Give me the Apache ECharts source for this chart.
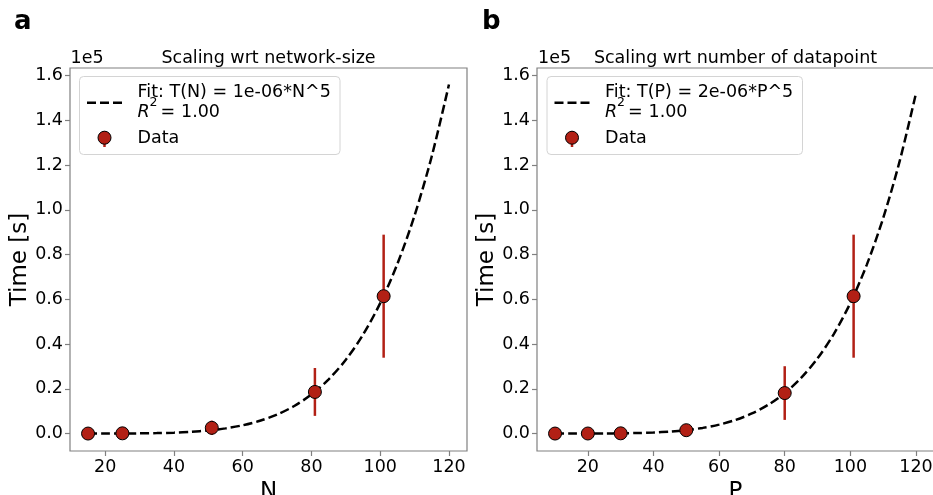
<!DOCTYPE html>
<html>
<head>
<meta charset="utf-8">
<script src="https://cdn.jsdelivr.net/npm/echarts@6/dist/echarts.min.js"></script>
<style>
html, body { margin: 0; padding: 0; background: #fff; }
#chart { width: 933px; height: 495px; }
</style>
</head>
<body>
<div id="chart"></div>
<script>
// panel a: run time vs network size N
var netN = [15, 25, 51, 81, 101];
var netTime = [0, 100, 2560, 18600, 61400];
var netErr = [100, 300, 3200, 10700, 27500];
var netFitN = [15, 20, 25, 30, 35, 40, 45, 50, 55, 60, 65, 70, 75, 80, 85, 90, 95, 100, 105, 110, 115, 120];
var netFitTime = [2, 10, 33, 88, 201, 413, 781, 1380, 2309, 3696, 5692, 8493, 12329, 17472, 24245, 32996, 44186, 58290, 75850, 97520, 123970, 156000];

// panel b: run time vs number of datapoints P
var dpP = [10, 20, 30, 50, 80, 101];
var dpTime = [0, 20, 100, 1500, 18100, 61400];
var dpErr = [50, 100, 300, 1000, 12000, 27500];
var dpFitP = [10, 15, 20, 25, 30, 35, 40, 45, 50, 55, 60, 65, 70, 75, 80, 85, 90, 95, 100, 105, 110, 115, 120];
var dpFitTime = [0, 3, 13, 40, 105, 236, 475, 882, 1534, 2529, 3993, 6080, 8967, 12886, 18088, 24867, 33562, 44597, 58368, 75407, 96262, 121570, 152000];

var xTicks = [20, 40, 60, 80, 100, 120];
var yTicks = [0, 20000, 40000, 60000, 80000, 100000, 120000, 140000, 160000];

var FONT = 'DejaVu Sans';
var RED = '#b22015';
var SPINE = '#808080';

function zip(a, b) {
  return a.map(function (v, i) { return [v, b[i]]; });
}

function xAxisFor(idx, min, max, name) {
  return {
    type: 'value', gridIndex: idx, min: min, max: max,
    name: name, nameLocation: 'middle', nameGap: 21,
    nameTextStyle: { fontSize: 23, color: '#000', fontFamily: FONT },
    axisLine: { show: false, onZero: false },
    splitLine: { show: false },
    axisTick: { show: true, customValues: xTicks, length: 5, lineStyle: { color: SPINE, width: 1.2 } },
    axisLabel: { customValues: xTicks, fontSize: 17.5, color: '#000', margin: 7, fontFamily: FONT }
  };
}

function yAxisFor(idx) {
  return {
    type: 'value', gridIndex: idx, min: -7800, max: 163400,
    name: 'Time [s]', nameLocation: 'middle', nameGap: 38,
    nameTextStyle: { fontSize: 23, color: '#000', fontFamily: FONT },
    axisLine: { show: false, onZero: false },
    splitLine: { show: false },
    axisTick: { show: true, customValues: yTicks, length: 5, lineStyle: { color: SPINE, width: 1.2 } },
    axisLabel: {
      customValues: yTicks, fontSize: 17.5, color: '#000', margin: 7, fontFamily: FONT,
      formatter: function (v) { return (v / 1e5).toFixed(1); }
    }
  };
}

function fitLine(idx, xs, ys) {
  return {
    type: 'line', xAxisIndex: idx, yAxisIndex: idx, z: 2,
    data: zip(xs, ys), smooth: 0.3, showSymbol: false, silent: true,
    lineStyle: { color: '#000', width: 2.5, type: [9, 4] }
  };
}

function errorBars(idx, xs, ys, es) {
  return {
    type: 'custom', xAxisIndex: idx, yAxisIndex: idx, z: 3, silent: true,
    encode: { x: 0, y: [1, 2] },
    data: xs.map(function (x, i) { return [x, ys[i] - es[i], ys[i] + es[i]]; }),
    renderItem: function (params, api) {
      var lo = api.coord([api.value(0), api.value(1)]);
      var hi = api.coord([api.value(0), api.value(2)]);
      return {
        type: 'line',
        shape: { x1: lo[0], y1: lo[1], x2: hi[0], y2: hi[1] },
        style: { stroke: RED, lineWidth: 2.5 }
      };
    }
  };
}

function points(idx, xs, ys) {
  return {
    type: 'scatter', xAxisIndex: idx, yAxisIndex: idx, z: 4, silent: true,
    data: zip(xs, ys), symbol: 'circle', symbolSize: 13,
    itemStyle: { color: RED, borderColor: '#000', borderWidth: 1, opacity: 1 }
  };
}

function txt(x, y, s, size, extra) {
  var style = { x: x, y: y, text: s, fontSize: size, fontFamily: FONT, fill: '#000', verticalAlign: 'middle' };
  for (var k in extra) style[k] = extra[k];
  return { type: 'text', z: 10, style: style };
}

// legend box drawn by hand (two-line label with R^2)
function legend(x0, w, fitLabel) {
  return [
    { type: 'rect', z: 9, shape: { x: x0, y: 76.5, width: w, height: 78, r: 4 },
      style: { fill: 'rgba(255,255,255,0.8)', stroke: '#d4d4d4', lineWidth: 1 } },
    { type: 'line', z: 10, shape: { x1: x0 + 7.5, y1: 102.7, x2: x0 + 43.5, y2: 102.7 },
      style: { stroke: '#000', lineWidth: 2.5, lineDash: [9, 4] } },
    txt(x0 + 58, 92, fitLabel, 17.5),
    txt(x0 + 58, 112, 'R', 17.5, { fontStyle: 'italic' }),
    txt(x0 + 70, 103, '2', 12.5),
    txt(x0 + 81, 112, '=', 17.5),
    txt(x0 + 101.5, 112, '1.00', 17.5),
    { type: 'line', z: 10, shape: { x1: x0 + 25, y1: 131, x2: x0 + 25, y2: 147 },
      style: { stroke: RED, lineWidth: 2.5 } },
    { type: 'circle', z: 11, shape: { cx: x0 + 25, cy: 137.7, r: 6.5 },
      style: { fill: RED, stroke: '#000', lineWidth: 1 } },
    txt(x0 + 58, 138, 'Data', 17.5)
  ];
}

var graphics = [
  txt(14, 22, 'a', 26, { fontWeight: 'bold' }),
  txt(482, 22, 'b', 26, { fontWeight: 'bold' }),
  txt(268.5, 58, 'Scaling wrt network-size', 17.5, { align: 'center' }),
  txt(735.5, 58, 'Scaling wrt number of datapoint', 17.5, { align: 'center' }),
  txt(70.5, 58, '1e5', 17.5),
  txt(538, 58, '1e5', 17.5)
].concat(legend(79.5, 260.5, 'Fit: T(N) = 1e-06*N^5'))
 .concat(legend(547, 255.5, 'Fit: T(P) = 2e-06*P^5'));

var gridBase = {
  top: 68, width: 397, height: 383, show: true, containLabel: false, outerBoundsMode: 'none',
  borderColor: SPINE, borderWidth: 1.2, backgroundColor: 'transparent'
};

var option = {
  animation: false,
  backgroundColor: '#fff',
  grid: [
    Object.assign({ left: 70 }, gridBase),
    Object.assign({ left: 537 }, gridBase)
  ],
  xAxis: [xAxisFor(0, 9.75, 125.25, 'N'), xAxisFor(1, 4.5, 125.5, 'P')],
  yAxis: [yAxisFor(0), yAxisFor(1)],
  series: [
    fitLine(0, netFitN, netFitTime),
    errorBars(0, netN, netTime, netErr),
    points(0, netN, netTime),
    fitLine(1, dpFitP, dpFitTime),
    errorBars(1, dpP, dpTime, dpErr),
    points(1, dpP, dpTime)
  ],
  graphic: graphics
};

var myChart = echarts.init(document.getElementById('chart'));
myChart.setOption(option, true);
</script>
</body>
</html>
